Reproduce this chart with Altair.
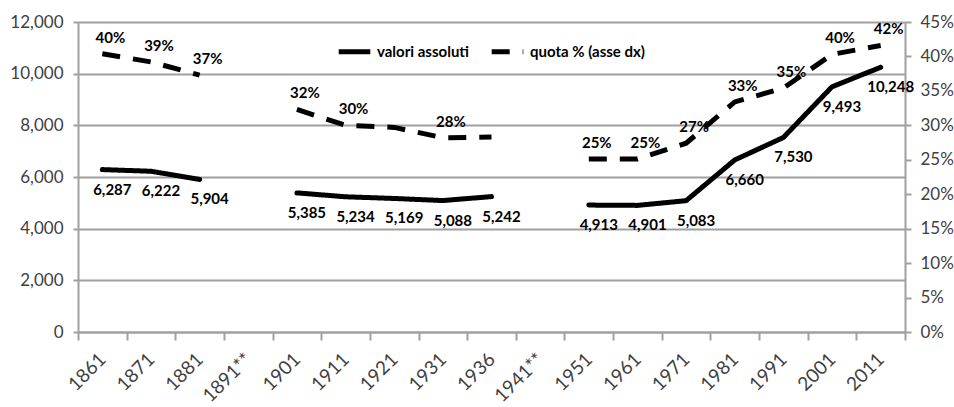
import altair as alt
import pandas as pd

years = ["1861", "1871", "1881", "1891**", "1901", "1911", "1921", "1931", "1936",
         "1941**", "1951", "1961", "1971", "1981", "1991", "2001", "2011"]
valori = [6287, 6222, 5904, None, 5385, 5234, 5169, 5088, 5242, None,
          4913, 4901, 5083, 6660, 7530, 9493, 10248]
quota = [40.4, 39.2, 37.3, None, 32.3, 30.0, 29.7, 28.2, 28.3, None,
         25.1, 25.1, 27.4, 33.4, 35.4, 40.3, 41.6]
quota_labels = ["40%", "39%", "37%", None, "32%", "30%", None, "28%", None, None,
                "25%", "25%", "27%", "33%", "35%", "40%", "42%"]
left_ticks = [0, 2000, 4000, 6000, 8000, 10000, 12000]
right_ticks = [0, 5, 10, 15, 20, 25, 30, 35, 40, 45]
series_names = ["valori assoluti", "quota % (asse dx)"]

df = pd.DataFrame({"anno": years, "valori": valori, "quota": quota, "qlab": quota_labels})
df["seg"] = df["valori"].isna().cumsum()

FONT = "Lato"
GRAY = "#a0a0a0"
LABEL = "#404040"

x_enc = alt.X("anno:N", sort=years, bandPosition=0.5,
              scale=alt.Scale(type="band", domain=years, paddingInner=0, paddingOuter=0),
              axis=alt.Axis(title=None, labelAngle=-45, labelAlign="right", labelBaseline="middle",
                            labelPadding=16, tickBand="extent", tickSize=8, grid=False,
                            labelFontSize=19, labelColor=LABEL, labelFont=FONT))

y_left = alt.Y("valori:Q",
               scale=alt.Scale(domain=[0, 12000], nice=False, zero=True),
               axis=alt.Axis(title=None, values=left_ticks, format=",d", orient="left", grid=True,
                             tickSize=5, labelPadding=10, labelFontSize=17, labelColor=LABEL,
                             labelFont=FONT))
y_right = alt.Y("quota:Q",
                scale=alt.Scale(domain=[0, 45], nice=False, zero=True),
                axis=alt.Axis(title=None, values=right_ticks, labelExpr="datum.value + '%'",
                              orient="right", grid=False, tickSize=6, labelPadding=9,
                              labelFontSize=17, labelColor=LABEL, labelFont=FONT))

dash_scale = alt.Scale(domain=series_names, range=[[1, 0], [18, 13]])
legend = alt.Legend(title=None, orient="none", legendX=258, legendY=11, direction="horizontal",
                    symbolType="stroke", symbolStrokeWidth=5, symbolSize=1000,
                    symbolStrokeColor="black", labelFont=FONT, labelFontWeight="bold",
                    labelFontSize=15, labelColor="black", columnPadding=12, labelOffset=4)

base_valid = alt.Chart(df).transform_filter("isValid(datum.valori)").transform_calculate(
    serie="'%s'" % series_names[0])
solid_line = base_valid.mark_line(color="black", strokeWidth=5, strokeCap="round").encode(
    x=x_enc, y=y_left, detail="seg:N",
    strokeDash=alt.StrokeDash("serie:N", scale=dash_scale, legend=legend))
solid_text = base_valid.mark_text(font=FONT, fontWeight="bold", fontSize=15, color="black",
                                  dx=10, dy=20).encode(
    x=x_enc, y=y_left, text=alt.Text("valori:Q", format=",d"))

qbase = alt.Chart(df).transform_filter("isValid(datum.quota)").transform_calculate(
    serie="'%s'" % series_names[1])
dash_line = qbase.mark_line(color="black", strokeWidth=5, strokeCap="butt").encode(
    x=x_enc, y=y_right, detail="seg:N",
    strokeDash=alt.StrokeDash("serie:N", scale=dash_scale, legend=legend))
dash_text = alt.Chart(df).transform_filter("isValid(datum.qlab)").mark_text(
    font=FONT, fontWeight="bold", fontSize=15, color="black", dx=8, dy=-16).encode(
    x=x_enc, y=y_right, text="qlab:N")

left = alt.layer(solid_line, solid_text)
right = alt.layer(dash_line, dash_text)

chart = alt.layer(left, right).resolve_scale(y="independent").properties(
    width=827, height=310,
    autosize=alt.AutoSizeParams(type="none"),
    padding={"left": 78, "top": 22, "right": 49, "bottom": 75},
    background="white",
).configure_view(stroke=None).configure_axis(
    domainColor=GRAY, domainWidth=2, tickColor=GRAY, tickWidth=2,
    gridColor=GRAY, gridWidth=2)

chart.save("out.html", embed_options={"renderer": "svg", "actions": False})
